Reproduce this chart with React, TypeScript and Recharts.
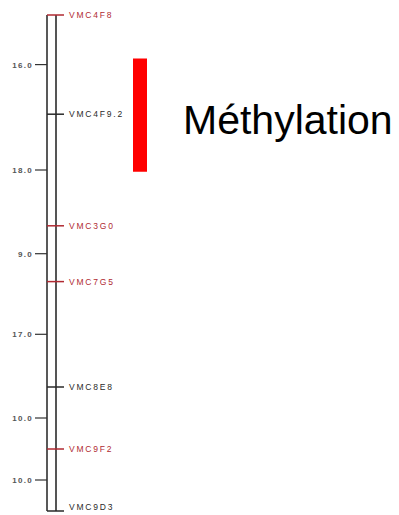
import { ComposedChart, XAxis, YAxis, Scatter, ReferenceLine, ReferenceArea } from 'recharts';

// marker names top to bottom, and the distance (cM) from each marker to the next
const markers = ['VMC4F8', 'VMC4F9.2', 'VMC3G0', 'VMC7G5', 'VMC8E8', 'VMC9F2', 'VMC9D3'];
const intervals = [16.0, 18.0, 9.0, 17.0, 10.0, 10.0];
const highlighted = [true, false, true, true, false, true, false];

// region tagged as methylated (cM)
const methylStart = 7;
const methylEnd = 25.3;
const methylLabel = 'Méthylation';

// cumulative positions along the linkage group
const positions = intervals.reduce<number[]>((acc, d) => [...acc, acc[acc.length - 1] + d], [0]);
const totalLength = positions[positions.length - 1];
const midpoints = intervals.map((d, i) => positions[i] + d / 2);

const markerData = markers.map((name, i) => ({
    x: 0,
    y: positions[i],
    name,
    color: highlighted[i] ? '#b02a32' : '#2a2a2a',
}));

const MarkerShape = ({ cx, cy, payload }: any) => (
    <g>
        <line x1={cx} x2={cx + 17} y1={cy} y2={cy} stroke={payload.color} strokeWidth={1.5} />
        <text
            x={cx + 22}
            // keep the last label inside the frame
            y={Math.min(cy + 3, 510)}
            fontSize={8.5}
            letterSpacing={1.8}
            fill={payload.color}
            fontFamily="Liberation Sans, Arial, sans-serif"
        >
            {payload.name}
        </text>
    </g>
);

const IntervalTick = ({ x, y, index }: any) => (
    <text
        x={x}
        y={y}
        dy={3}
        textAnchor="end"
        fontSize={8}
        fontWeight={700}
        letterSpacing={1.3}
        fill="#555"
        fontFamily="Liberation Sans, Arial, sans-serif"
    >
        {intervals[index].toFixed(1)}
    </text>
);

const MethylLabel = ({ viewBox }: any) => (
    <text
        x={viewBox.x + viewBox.width + 36}
        y={viewBox.y + viewBox.height / 2 + 19}
        fontSize={41}
        fill="#000"
        fontFamily="Liberation Sans, Arial, sans-serif"
    >
        {methylLabel}
    </text>
);

export default function App() {
    return (
        <div style={{ position: 'absolute', left: 0, top: 0, background: '#fff' }}>
            <ComposedChart width={399} height={515} margin={{ top: 15, right: 0, bottom: 4, left: 0 }}>
                <XAxis type="number" dataKey="x" domain={[0, 352]} hide />
                <YAxis
                    type="number"
                    dataKey="y"
                    domain={[0, totalLength]}
                    reversed
                    width={47}
                    ticks={midpoints}
                    interval={0}
                    tickSize={12}
                    tickMargin={2}
                    tick={<IntervalTick />}
                    tickLine={{ stroke: '#333', strokeWidth: 1.2 }}
                    axisLine={{ stroke: '#222', strokeWidth: 1.5 }}
                />
                <ReferenceLine
                    segment={[{ x: 9, y: 0 }, { x: 9, y: totalLength }]}
                    stroke="#555"
                    strokeWidth={2}
                />
                <ReferenceArea
                    x1={86}
                    x2={100}
                    y1={methylStart}
                    y2={methylEnd}
                    fill="#ff0000"
                    fillOpacity={1}
                    stroke="none"
                    label={<MethylLabel />}
                />
                <Scatter data={markerData} shape={<MarkerShape />} isAnimationActive={false} />
            </ComposedChart>
        </div>
    );
}
